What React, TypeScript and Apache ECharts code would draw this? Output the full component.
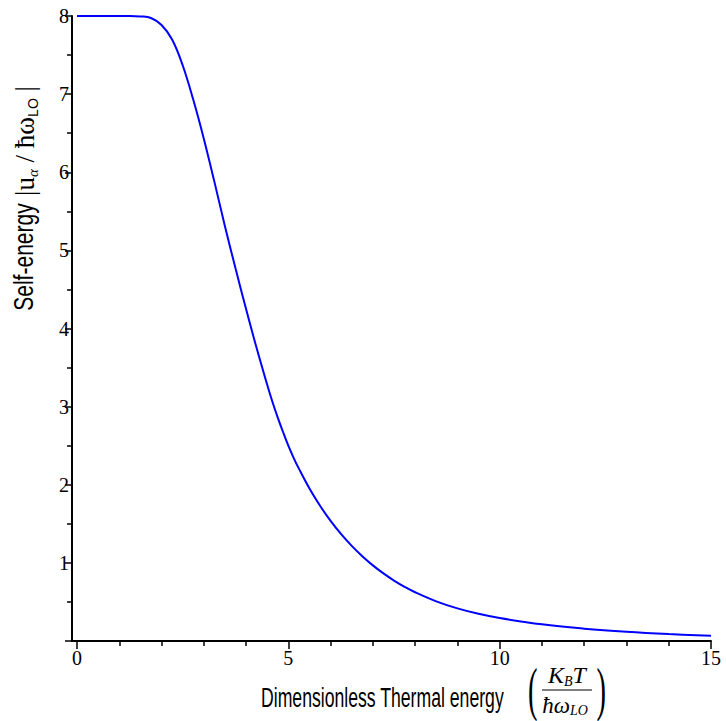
import React, { useEffect, useRef } from "react";
import * as echarts from "echarts";

const xValues = [0, 0.5, 1, 1.25, 1.5, 1.75, 2, 2.25, 2.5, 2.75, 3, 3.25, 3.5, 3.75, 4, 4.25, 4.5, 4.625, 4.75, 4.875, 5, 5.125, 5.25, 5.5, 5.75, 6, 6.25, 6.5, 6.75, 7, 7.25, 7.5, 7.75, 8, 8.5, 9, 9.5, 10, 11, 12, 13, 14, 15];
const yValues = [8, 8, 8, 8, 7.995, 7.975, 7.885, 7.7, 7.37, 6.93, 6.43, 5.88, 5.31, 4.77, 4.25, 3.75, 3.28, 3.06, 2.86, 2.675, 2.5, 2.345, 2.206, 1.952, 1.731, 1.537, 1.367, 1.217, 1.085, 0.968, 0.865, 0.774, 0.694, 0.624, 0.508, 0.418, 0.348, 0.294, 0.213, 0.158, 0.118, 0.089, 0.068];
const xTicks = [0, 5, 10, 15];
const yTicks = [0, 1, 2, 3, 4, 5, 6, 7, 8];

const xTitle = "Dimensionless Thermal energy";
const yTitleWord = "Self-energy";

export default function App() {
  const ref = useRef<HTMLDivElement>(null);
  useEffect(() => {
    if (!ref.current) return;
    const chart = echarts.init(ref.current, null, { renderer: "svg" });
    const serif = "'Liberation Serif', 'Times New Roman', serif";
    const narrow = "'Liberation Sans', Arial, sans-serif";
    const data = xValues.map((x, i) => [x, yValues[i]]);
    chart.setOption({
      animation: false,
      backgroundColor: "#ffffff",
      grid: { left: 77, right: 15, top: 16, bottom: 80, outerBoundsMode: "none" },
      xAxis: {
        type: "value",
        min: xTicks[0],
        max: xTicks[xTicks.length - 1],
        interval: 5,
        axisLine: { onZero: false, lineStyle: { color: "#000", width: 2 } },
        axisTick: { show: true, length: 8, lineStyle: { color: "#000", width: 1.5 } },
        minorTick: { show: true, splitNumber: 5, length: 5, lineStyle: { color: "#000", width: 1.5 } },
        splitLine: { show: false },
        axisLabel: { color: "#000", fontFamily: serif, fontSize: 20, margin: 7, showMinLabel: true, showMaxLabel: true },
      },
      yAxis: {
        type: "value",
        min: yTicks[0],
        max: yTicks[yTicks.length - 1],
        interval: 1,
        offset: 5,
        axisLine: { show: true, onZero: false, lineStyle: { color: "#000", width: 2 } },
        axisTick: { show: true, length: 7, lineStyle: { color: "#000", width: 1.5 } },
        minorTick: { show: true, splitNumber: 2, length: 5, lineStyle: { color: "#000", width: 1.5 } },
        splitLine: { show: false },
        axisLabel: {
          color: "#000",
          fontFamily: serif,
          fontSize: 20,
          margin: 3,
          formatter: (v: number) => (v === 0 ? "" : String(v)),
        },
      },
      series: [
        {
          type: "line",
          data,
          showSymbol: false,
          symbol: "none",
          smooth: 0.4,
          lineStyle: { color: "#0000ff", width: 2 },
          itemStyle: { color: "#0000ff" },
        },
      ],
      graphic: [
        { type: "line", shape: { x1: 71, y1: 641, x2: 78, y2: 641 }, style: { stroke: "#000", lineWidth: 2 } },
        {
          type: "text",
          x: 261,
          y: 697,
          scaleX: 0.63,
          style: { text: xTitle, fontFamily: narrow, fontSize: 28, fill: "#000", align: "left", verticalAlign: "middle" },
        },
        // fraction (K_B T / ħω_LO)
        {
          type: "text",
          x: 528,
          y: 689,
          scaleX: 0.75,
          scaleY: 1.55,
          style: { text: "(", fontFamily: serif, fontSize: 38, fill: "#000", align: "left", verticalAlign: "middle" },
        },
        {
          type: "text",
          x: 606,
          y: 689,
          scaleX: 0.75,
          scaleY: 1.55,
          style: { text: ")", fontFamily: serif, fontSize: 38, fill: "#000", align: "right", verticalAlign: "middle" },
        },
        { type: "line", shape: { x1: 542, y1: 690, x2: 592, y2: 690 }, style: { stroke: "#000", lineWidth: 1.2 } },
        {
          type: "text",
          x: 567,
          y: 675,
          style: {
            text: "{i|K}{sub|B}{i|T}",
            align: "center",
            verticalAlign: "middle",
            rich: {
              i: { fontFamily: serif, fontStyle: "italic", fontSize: 24, fill: "#000", lineHeight: 26, verticalAlign: "middle" },
              sub: { fontFamily: serif, fontStyle: "italic", fontSize: 14, fill: "#000", lineHeight: 26, verticalAlign: "bottom", padding: [9, 0, 0, 0] },
            },
          },
        },
        {
          type: "text",
          x: 565,
          y: 705,
          style: {
            text: "{i|ħω}{sub|LO}",
            align: "center",
            verticalAlign: "middle",
            rich: {
              i: { fontFamily: serif, fontStyle: "italic", fontSize: 23, fill: "#000", lineHeight: 24, verticalAlign: "middle" },
              sub: { fontFamily: serif, fontStyle: "italic", fontSize: 14, fill: "#000", lineHeight: 24, verticalAlign: "bottom", padding: [8, 0, 0, 0] },
            },
          },
        },
        // y title
        {
          type: "text",
          x: 24,
          y: 257,
          rotation: Math.PI / 2,
          scaleX: 0.78,
          style: { text: yTitleWord, fontFamily: narrow, fontSize: 27, fill: "#000", align: "center", verticalAlign: "middle" },
        },
        {
          type: "text",
          x: 25,
          y: 141,
          rotation: Math.PI / 2,
          style: {
            text: "{m||u}{sub|α}{m| / ħω}{sub2|LO}{m| |}",
            align: "center",
            verticalAlign: "middle",
            rich: {
              m: { fontFamily: serif, fontSize: 27, fill: "#000", lineHeight: 30, verticalAlign: "middle" },
              sub: { fontFamily: serif, fontStyle: "italic", fontSize: 15, fill: "#000", lineHeight: 30, verticalAlign: "bottom", padding: [10, 0, 0, 0] },
              sub2: { fontFamily: narrow, fontSize: 14, fill: "#000", lineHeight: 30, verticalAlign: "bottom", padding: [10, 0, 0, 0] },
            },
          },
        },
      ],
    });
    return () => chart.dispose();
  }, []);
  return <div ref={ref} style={{ position: "fixed", left: 0, top: 0, width: 726, height: 721 }} />;
}
